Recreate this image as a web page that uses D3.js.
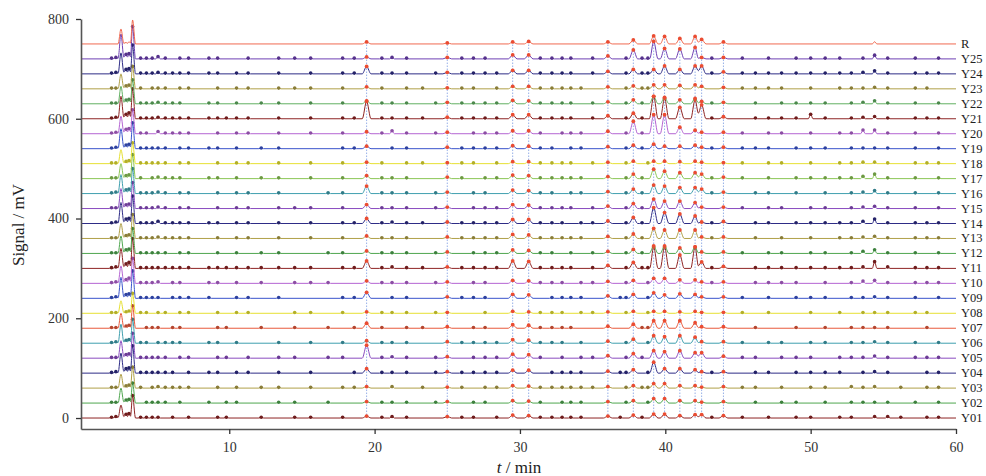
<!DOCTYPE html>
<html>
<head>
<meta charset="utf-8">
<script src="https://cdn.jsdelivr.net/npm/d3@7"></script>
<style>
  body { margin: 0; background: #fff; }
  svg { display: block; font-family: "Liberation Serif", "DejaVu Serif", serif; }
</style>
</head>
<body>
<svg id="chart" width="986" height="476"></svg>
<script>
// chromatogram fingerprints, Y01..Y25 + reference R, stacked 30 mV apart
const SAMPLES = ["Y01","Y02","Y03","Y04","Y05","Y06","Y07","Y08","Y09","Y10",
                 "Y11","Y12","Y13","Y14","Y15","Y16","Y17","Y18","Y19","Y20",
                 "Y21","Y22","Y23","Y24","Y25","R"];

const COLORS = ["#8e2424","#4ea64e","#b0a048","#2e2c86","#8a4cc0","#3f9fae","#e85a3c","#e6e032","#3a54cc","#b464d2",
                "#8e2424","#4ea64e","#b0a048","#2e2c86","#8a4cc0","#3f9fae","#8cc656","#e6e032","#3a54cc","#b464d2",
                "#8e2424","#62b062","#b0a048","#2e2c86","#6e40b4","#f06a50"];

const OFFSET_STEP = 30; // mV between stacked traces

// common peaks (min); the last 12 are the marked ones
const COMMON_TIMES = [2.55, 3.35, 19.45, 25.0, 29.5, 30.6, 36.05, 37.8, 39.2, 39.95, 41.0, 42.05, 42.5, 44.0];

// heights (mV) of the common peaks, one row per sample
const COMMON_HEIGHTS = [
  [26, 45,  4, 3,  6,  5, 4,  6,  8,  8,  5,  7,  7, 5],
  [30, 40,  3, 3,  5,  4, 3,  5,  9,  9,  5,  5,  2, 3],
  [28, 42,  3, 2,  5,  4, 3,  5,  9,  9,  5,  5,  2, 3],
  [40, 55,  9, 3,  6,  6, 4,  7, 22,  9,  9,  7,  3, 3],
  [35, 50, 26, 3,  8,  7, 5,  9, 15, 13, 15, 11, 11, 4],
  [38, 48,  5, 3,  7,  6, 4,  8, 15, 13, 15, 12,  3, 3],
  [30, 45, 10, 3,  7,  6, 4,  8, 15, 15, 15, 11,  3, 3],
  [25, 40,  3, 2,  4,  3, 3,  4,  4,  4,  3,  4,  2, 2],
  [42, 55, 12, 3,  8,  7, 5,  8, 11,  7,  9,  8,  3, 3],
  [35, 50,  5, 3,  6,  5, 4,  6, 10, 10,  7,  7,  3, 3],
  [40, 60, 15, 3, 15, 14, 6, 12, 43, 43, 27, 43, 13, 4],
  [35, 50,  5, 3,  7,  6, 4,  8, 15, 15, 11, 13,  3, 3],
  [30, 48,  5, 3,  8,  7, 4,  9, 20, 17, 17, 17,  3, 3],
  [42, 55, 10, 3,  8,  8, 5, 12, 32, 22, 19, 15,  3, 4],
  [40, 52,  8, 3,  8,  7, 5, 10, 19, 15, 15, 12,  3, 3],
  [38, 50, 15, 3,  7,  6, 4,  9, 17, 15, 12, 12,  9, 3],
  [30, 48,  6, 3,  7,  6, 4,  9, 19, 15, 12, 12,  9, 3],
  [28, 42,  3, 2,  4,  4, 3,  5,  5,  5,  4,  5,  3, 2],
  [40, 52,  5, 3,  6,  5, 4,  7,  9,  5,  5,  7,  3, 3],
  [35, 48,  4, 3,  6,  6, 5, 25, 38, 38, 13,  7,  3, 3],
  [45, 60, 35, 3,  8,  8, 6, 11, 45, 41, 23, 38, 28, 4],
  [35, 48,  6, 3,  7,  6, 4,  8, 15, 13,  8, 11,  5, 3],
  [30, 45,  4, 2,  5,  5, 4,  6,  8,  8,  7,  8,  5, 3],
  [42, 58, 15, 3,  7,  7, 5,  9,  9, 16,  9, 16, 16, 4],
  [50, 65,  4, 3,  8,  8, 6, 18, 35, 21, 20, 23,  3, 3],
  [30, 48,  4, 2,  4,  5, 4,  8, 16, 15, 11, 15,  9, 4]
];

// small peaks (min) found in the samples
const MINOR_TIMES = [1.9, 2.2, 2.9, 3.1, 3.9, 4.3, 4.7, 5.1, 5.6, 6.1,
                     6.6, 7.2, 8.6, 9.2, 9.8, 10.5, 11.3, 12.2, 13.4, 14.5,
                     15.6, 16.8, 17.8, 18.6, 20.5, 21.2, 22.2, 23.3, 24.2, 26.0,
                     26.8, 27.6, 28.4, 31.4, 32.2, 32.9, 33.5, 34.2, 35.0, 36.9,
                     37.3, 38.4, 38.8, 43.2, 45.3, 46.2, 47.1, 48.0, 49.0, 50.0,
                     51.0, 52.0, 52.8, 53.6, 54.4, 55.3, 56.2, 57.2, 58.0, 58.8];

// per sample: one digit per MINOR_TIMES entry, height in units of 1.5 mV (0 = none)
const MINOR_MASKS = [
  "1256111101 0101100101 1010121001 1011111101 0101101011 0110221011",
  "1145011110 1010110011 0100111010 1101011100 1010010110 1011110101",
  "1134101211 1101010110 1011020101 0111111110 1110110101 1021201011",
  "1267111111 0111011010 1001111011 1110111101 1011011011 1101210011",
  "1156111110 1101101011 0110121010 1111010110 1100110111 0111310111",
  "1245110111 1011010010 1010111001 1111110100 1010101101 1011210101",
  "1134011101 1001100101 0101101100 1101111000 0110010010 1011110010",
  "1123110110 1101011001 1010111010 0101110110 1010101001 0101110110",
  "1256111101 1110011010 0011011001 1100111101 1010101011 1011210101",
  "1257111201 1011010101 1100111010 1101110110 1011011110 1013410111",
  "1268111111 1111111111 1011121101 1111111010 1111011111 1112920111",
  "1156111110 1101010110 0110111010 1111101010 1100101101 1013510101",
  "1145111211 1101011010 1010111001 1111111100 1101010101 0112310111",
  "1267111311 1111011010 1011121101 1111110110 1101011011 1113610111",
  "1156111210 1101011011 1010111010 1111111010 1100101101 1012310101",
  "1256111210 1101011010 0110111010 1101101100 1101011010 1012410101",
  "1145101211 1011010110 1010111001 0111111100 1101101011 1113610101",
  "1134111110 1101011010 1010101101 1011111010 1010101101 0112210111",
  "1256111110 1111010110 0011011001 1111101100 1101111011 1011110101",
  "1267110311 1101011010 1010141010 1111011100 1100101101 0115510101",
  "1268111211 1111111010 1011111101 1111111010 1101011116 1012310111",
  "1156111211 1011010110 1010111011 1111111010 1101010111 1012410101",
  "1145101110 1101011011 1010101101 1011111100 1110111101 0111210110",
  "1267111211 1111011010 1011111011 1111111010 1111111111 1112410111",
  "1267111310 1111001011 1011121001 1101111010 1111101011 1101510101",
  "0023000000 0000000000 0000000000 0000000000 0000000000 0000300000"
];

const X_TICKS = [10, 20, 30, 40, 50, 60];
const Y_TICKS = [0, 200, 400, 600, 800];

const svg = d3.select("#chart");

const x = d3.scaleLinear().domain([-0.2, 60]).range([81, 956]);
const y = d3.scaleLinear().domain([-22, 800]).range([429, 19]);

function peakList(si) {
  let list = [];
  COMMON_TIMES.forEach(function(t, j) {
    list.push({ t: t, h: COMMON_HEIGHTS[si][j], w: j < 2 ? 0.2 : 0.3, common: j >= 2 });
  });
  const mask = MINOR_MASKS[si].replace(/ /g, "");
  MINOR_TIMES.forEach(function(t, j) {
    const d = +mask[j];
    if (d > 0) list.push({ t: t, h: d * 1.5, w: 0.16, common: false });
  });
  list.sort(function(a, b) { return a.t - b.t; });
  return list;
}

function tracePoints(peaks) {
  let pts = [[x.domain()[0], 0]];
  peaks.forEach(function(p, i) {
    const prev = peaks[i - 1];
    if (!prev) {
      pts.push([p.t - p.w, 0]);
    } else if (prev.t + prev.w <= p.t - p.w) {
      pts.push([prev.t + prev.w, 0]);
      pts.push([p.t - p.w, 0]);
    } else {
      // overlapping feet: one valley point between the two apexes
      let mid = (prev.t + prev.w + p.t - p.w) / 2;
      mid = Math.max(prev.t + 0.02, Math.min(p.t - 0.02, mid));
      pts.push([mid, 0.4 * Math.min(prev.h, p.h)]);
    }
    pts.push([p.t, p.h]);
  });
  const last = peaks[peaks.length - 1];
  pts.push([last.t + last.w, 0]);
  pts.push([60, 0]);
  return pts;
}

const line = d3.line()
  .x(function(d) { return x(d[0]); })
  .y(function(d) { return y(d[1]); })
  .curve(d3.curveMonotoneX);

const allPeaks = SAMPLES.map(function(s, i) { return peakList(i); });

// dotted guides through the marked common peaks
const topIdx = SAMPLES.length - 1;
svg.append("g").selectAll("line")
  .data(COMMON_TIMES.slice(2))
  .enter().append("line")
  .attr("x1", function(d) { return x(d); })
  .attr("x2", function(d) { return x(d); })
  .attr("y1", y(0))
  .attr("y2", function(d, j) { return y(topIdx * OFFSET_STEP + COMMON_HEIGHTS[topIdx][j + 2]); })
  .attr("stroke", "#8aa6e4")
  .attr("stroke-width", 0.9)
  .attr("stroke-dasharray", "1.5,1.5");

// traces
const traces = svg.append("g").selectAll("g")
  .data(SAMPLES)
  .enter().append("g")
  .attr("transform", function(d, i) { return "translate(0," + (y(i * OFFSET_STEP) - y(0)) + ")"; });

traces.append("path")
  .attr("fill", "none")
  .attr("stroke", function(d, i) { return COLORS[i]; })
  .attr("stroke-width", 1)
  .attr("d", function(d, i) { return line(tracePoints(allPeaks[i])); });

// minor peak dots (not on the reference trace)
traces.each(function(s, i) {
  if (s === "R") return;
  d3.select(this).selectAll("circle.minor")
    .data(allPeaks[i].filter(function(p) { return !p.common && p.t > 1.5 && (p.t < 2.4 || p.t > 2.7); }))
    .enter().append("circle")
    .attr("class", "minor")
    .attr("cx", function(p) { return x(p.t); })
    .attr("cy", function(p) { return y(p.h); })
    .attr("r", 1.8)
    .attr("fill", d3.color(COLORS[i]).darker(0.7));
});

// marked common peaks
traces.each(function(s, i) {
  d3.select(this).selectAll("circle.common")
    .data(allPeaks[i].filter(function(p) { return p.common; }))
    .enter().append("circle")
    .attr("class", "common")
    .attr("cx", function(p) { return x(p.t); })
    .attr("cy", function(p) { return y(p.h); })
    .attr("r", 1.9)
    .attr("fill", "#ea4c32");
});

// sample labels on the right
svg.append("g").selectAll("text")
  .data(SAMPLES)
  .enter().append("text")
  .attr("x", 961)
  .attr("y", function(d, i) { return y(i * OFFSET_STEP) + 4; })
  .attr("font-size", 12.5)
  .attr("fill", "#222")
  .text(function(d) { return d; });

// axes
const xAxis = svg.append("g")
  .attr("transform", "translate(0," + y(-22) + ")")
  .call(d3.axisBottom(x).tickValues(X_TICKS).tickSize(5).tickPadding(8).tickSizeOuter(0));
const yAxis = svg.append("g")
  .attr("transform", "translate(" + x(-0.2) + ",0)")
  .call(d3.axisLeft(y).tickValues(Y_TICKS).tickSize(5).tickPadding(7).tickSizeOuter(0));

[xAxis, yAxis].forEach(function(a) {
  a.select(".domain").attr("stroke", "#555").attr("stroke-width", 1.6);
  a.selectAll(".tick line").attr("stroke", "#333").attr("stroke-width", 1.3);
  a.selectAll(".tick text").attr("font-family", "Liberation Serif, serif")
    .attr("font-size", 14).attr("fill", "#333");
});

svg.append("text")
  .attr("transform", "translate(24," + 225 + ") rotate(-90)")
  .attr("text-anchor", "middle")
  .attr("font-size", 17)
  .attr("fill", "#222")
  .text("Signal / mV");

const xl = svg.append("text")
  .attr("x", 519)
  .attr("y", 473)
  .attr("text-anchor", "middle")
  .attr("font-size", 17)
  .attr("fill", "#222");
xl.append("tspan").attr("font-style", "italic").text("t");
xl.append("tspan").text(" / min");
</script>
</body>
</html>
